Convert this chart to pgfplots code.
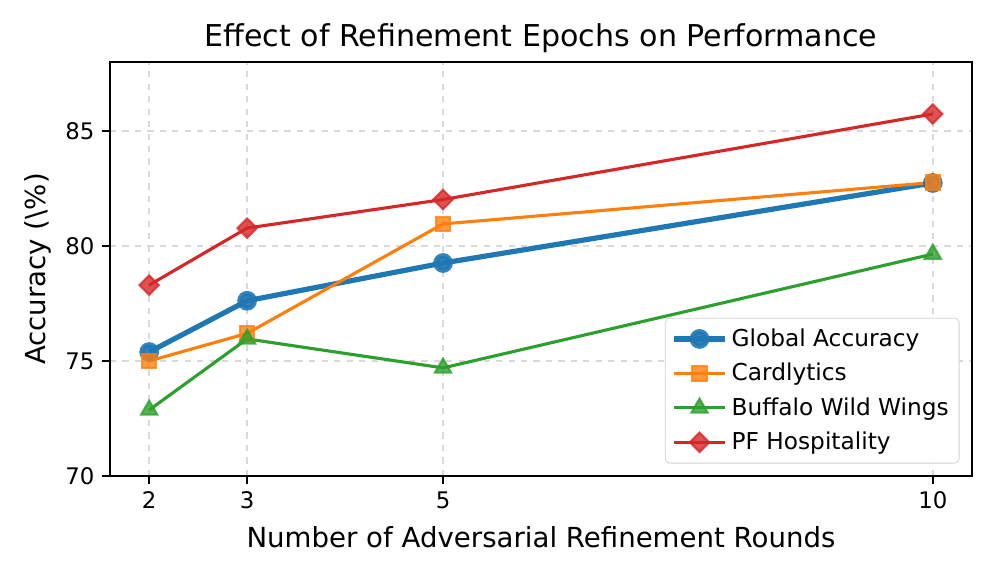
\documentclass[border=0pt]{standalone}
\usepackage{fontspec}
\setmainfont{DejaVu Sans}
\usepackage{pgfplots}
\pgfplotsset{compat=1.18}
\definecolor{cblue}{HTML}{1F77B4}
\definecolor{corange}{HTML}{FF7F0E}
\definecolor{cgreen}{HTML}{2CA02C}
\definecolor{cred}{HTML}{D62728}
\begin{document}
\begin{tikzpicture}
\begin{axis}[
    scale only axis,
    width=413.76bp, height=198.72bp,
    xmin=1.6, xmax=10.4,
    ymin=70, ymax=88,
    xtick={2,3,5,10},
    ytick={70,75,80,85},
    /pgf/number format/assume math mode=true,
    tick label style={font=\fontsize{11}{13}\selectfont},
    tick align=outside,
    tick style={black, line width=0.8pt},
    major tick length=4pt,
    xtick pos=bottom, ytick pos=left,
    axis line style={line width=0.8pt},
    grid=major,
    grid style={dashed, gray!30, line width=0.8pt},
    title={Effect of Refinement Epochs on Performance},
    title style={font=\fontsize{14.5}{17}\selectfont, yshift=-5pt},
    xlabel={Number of Adversarial Refinement Rounds},
    ylabel={Accuracy (\textbackslash\%)},
    label style={font=\fontsize{13.3}{15}\selectfont},
    xlabel style={yshift=-1.5pt},
    legend style={at={(1,0)}, anchor=south east, xshift=-6pt, yshift=6pt,
        draw=gray!35, rounded corners=2pt, font=\fontsize{11.2}{13}\selectfont,
        row sep=2.6pt, inner sep=3pt},
    legend cell align=left,
    legend image code/.code={
        \draw[mark repeat=2, mark phase=2] plot coordinates {(0cm,0cm) (0.43cm,0cm) (0.86cm,0cm)};},
]
\addplot[cblue, line width=2.5pt, mark=*, mark size=3.5pt,
    mark options={solid, fill=cblue, draw=cblue, fill opacity=0.9, draw opacity=0.9}]
    coordinates {(2,75.39) (3,77.62) (5,79.26) (10,82.74)};
\addlegendentry{Global Accuracy}
\addplot[corange, line width=1.5pt, mark=square*, mark size=3.5pt,
    mark options={solid, fill=corange, draw=corange, fill opacity=0.8, draw opacity=0.8, line width=1pt}]
    coordinates {(2,75.0) (3,76.2) (5,80.96) (10,82.76)};
\addlegendentry{Cardlytics}
\addplot[cgreen, line width=1.5pt, mark=triangle*, mark size=4.5pt,
    mark options={solid, fill=cgreen, draw=cgreen, fill opacity=0.8, draw opacity=0.8, line width=1pt}]
    coordinates {(2,72.87) (3,75.96) (5,74.7) (10,79.65)};
\addlegendentry{Buffalo Wild Wings}
\addplot[cred, line width=1.5pt, mark=square*, mark size=3.3pt,
    mark options={solid, rotate=45, fill=cred, draw=cred, fill opacity=0.8, draw opacity=0.8, line width=1pt}]
    coordinates {(2,78.3) (3,80.78) (5,82.02) (10,85.74)};
\addlegendentry{PF Hospitality}
\end{axis}
\pgfresetboundingbox
\path (-52.8bp,-50.4bp) rectangle (425.28bp,228.48bp);
\end{tikzpicture}
\end{document}
